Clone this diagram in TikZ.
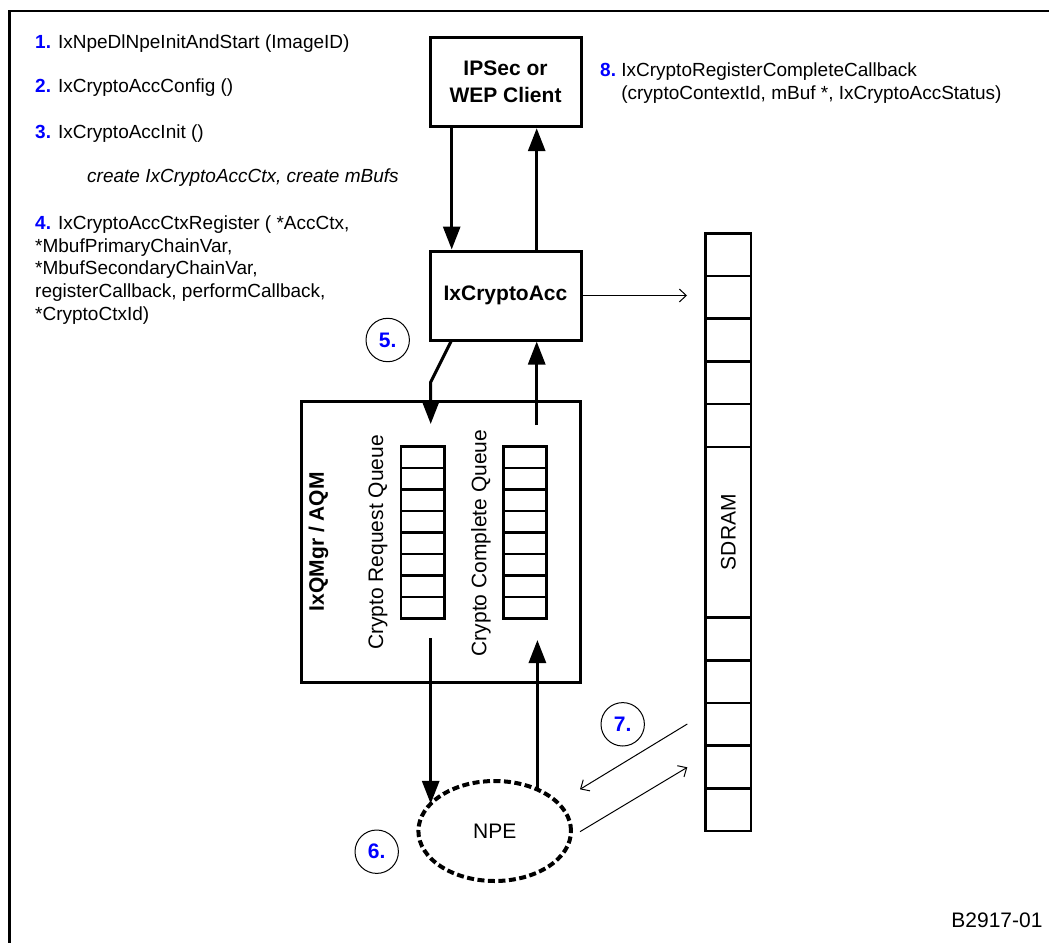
\documentclass[tikz,border=0pt]{standalone}
\usepackage{fontspec}
\setmainfont{Liberation Sans}
\usetikzlibrary{arrows.meta,shapes.geometric}
\newcommand{\bluenum}[1]{\textcolor{blue}{\textbf{#1}}}

\begin{document}
\begin{tikzpicture}[x=1pt,y=-1pt,
  blockbox/.style={draw, line width=3pt, rectangle, inner sep=0pt, align=center,
    font=\fontsize{21}{26.7}\selectfont\bfseries},
  thickarrow/.style={line width=3pt, -{Triangle[length=23pt,width=17pt]}},
  thinarrow/.style={line width=1pt, -{Straight Barb[length=7pt,width=13pt]}},
  stepno/.style={draw, circle, line width=1pt, minimum size=43.4pt, inner sep=0pt,
    text=blue, font=\fontsize{21}{25}\selectfont\bfseries},
  bodytext/.style={font=\fontsize{19}{22.7}\selectfont, inner sep=0pt, anchor=base west},
  labeltext/.style={font=\fontsize{21}{25}\selectfont},
  cellcol/.style={draw, line width=2.6pt, rectangle, inner sep=0pt, outer sep=0pt,
    minimum width=43.3pt, minimum height=171.6pt},
  cellline/.style={line width=2.6pt}
]
\useasboundingbox (0,0) rectangle (1049,942);
\fill[white] (0,0) rectangle (1049,942);

% outer frame (runs off the right and bottom edges)
\begin{scope}
  \clip (0,0) rectangle (1049,942);
  \draw[line width=2.6pt] (9.3,11) rectangle (1080,980);
\end{scope}

% numbered API steps
\node[bodytext] (t1) at (35,48.3) {\bluenum{1.} IxNpeDlNpeInitAndStart (ImageID)};
\node[bodytext] (t2) at (35,92.7) {\bluenum{2.} IxCryptoAccConfig ()};
\node[bodytext] (t3) at (35,138.3) {\bluenum{3.} IxCryptoAccInit ()};
\node[bodytext] (t3a) at (87,182.7) {\itshape create IxCryptoAccCtx, create mBufs};
\node[bodytext] (t4) at (35,229.3) {\parbox[t]{340pt}{\raggedright
  \bluenum{4.} IxCryptoAccCtxRegister ( *AccCtx,\\{}%
  *MbufPrimaryChainVar,\\{}%
  *MbufSecondaryChainVar,\\{}%
  registerCallback, performCallback,\\{}%
  *CryptoCtxId)}};
\node[bodytext, font=\fontsize{19}{23.3}\selectfont] (t8) at (600,76.7)
  {\begin{tabular}[t]{@{}l@{\ }l@{}}
   \bluenum{8.} & IxCryptoRegisterCompleteCallback\\
   & (cryptoContextId, mBuf *, IxCryptoAccStatus)
   \end{tabular}};

% client and access component
\node[blockbox, minimum width=151pt, minimum height=89.4pt] (ipsec) at (505.5,82) {IPSec or\\WEP Client};
\node[blockbox, minimum width=151pt, minimum height=89pt] (acc) at (505.5,295.5) {IxCryptoAcc};

\draw[thickarrow] ([xshift=-53.8pt]ipsec.south) -- ([xshift=-53.8pt]acc.north);
\draw[thickarrow] ([xshift=31.2pt]acc.north) -- ([xshift=31.2pt]ipsec.south);

% queue manager with its two queues
\node[draw, line width=3pt, inner sep=0pt, minimum width=279pt, minimum height=280.6pt] (qmgr) at (441.2,542) {};
\node[cellcol] (reqq) at (422.65,532.5) {};
\node[cellcol] (compq) at (525,532.5) {};
\foreach \k in {1,...,7} {
  \draw[cellline] ([yshift=-\k*21.45pt]reqq.north west) -- ([yshift=-\k*21.45pt]reqq.north east);
  \draw[cellline] ([yshift=-\k*21.45pt]compq.north west) -- ([yshift=-\k*21.45pt]compq.north east);
}
\node[labeltext, font=\fontsize{21}{25}\selectfont\bfseries, rotate=90] (qlabel) at (318.5,541.7) {IxQMgr / AQM};
\node[labeltext, rotate=90] (reqlabel) at (377.9,542.5) {Crypto Request Queue};
\node[labeltext, rotate=90] (complabel) at (481,543) {Crypto Complete Queue};

\coordinate (reqbend) at (430.7,382);
\coordinate (reqin) at (430.7,424);
\draw[thickarrow, line join=miter] ([xshift=-54.5pt]acc.south) -- (reqbend) -- (reqin);
\coordinate (compout) at (536.7,425);
\draw[thickarrow] (compout) -- (compout |- acc.south);

% SDRAM column
\node[draw, line width=2.6pt, inner sep=0pt, outer sep=0pt, minimum width=45.3pt, minimum height=597.7pt] (sdram) at (728.3,532.2) {};
\foreach \k in {1,2,3,4,5,9,10,11,12,13} {
  \draw[cellline] ([yshift=-\k*42.69pt]sdram.north west) -- ([yshift=-\k*42.69pt]sdram.north east);
}
\node[labeltext, rotate=90] (sdramlabel) at (sdram.center) {SDRAM};

\coordinate (memin) at (687,295.5);
\draw[thinarrow] (acc.east) -- (acc.east -| memin);

% network processor engine
\node[ellipse, draw, line width=4pt, dash pattern=on 7pt off 3.5pt, minimum width=152.6pt,
  minimum height=100pt, inner sep=0pt, outer sep=0pt, labeltext] (npe) at (494.7,831) {NPE};

\coordinate (reqout) at (430.7,638.3);
\draw[thickarrow] (reqout) -- (reqout |- npe.157);
\coordinate (compin) at (537.4,640);
\draw[thickarrow] (compin |- npe.44) -- (compin);

% NPE <-> SDRAM transfers
\coordinate (m1) at (687.3,724);
\coordinate (n1) at (580,789.3);
\coordinate (n2) at (580,831.7);
\coordinate (m2) at (687.3,767.3);
\draw[thinarrow] (m1) -- (n1);
\draw[thinarrow] (n2) -- (m2);

% step markers
\node[stepno] (c5) at (387.7,340) {5.};
\node[stepno] (c6) at (376.7,851.7) {6.};
\node[stepno] (c7) at (622.7,724.3) {7.};

\node[labeltext, inner sep=0pt, anchor=east] (figid) at (1042.7,920) {B2917-01};
\end{tikzpicture}
\end{document}
